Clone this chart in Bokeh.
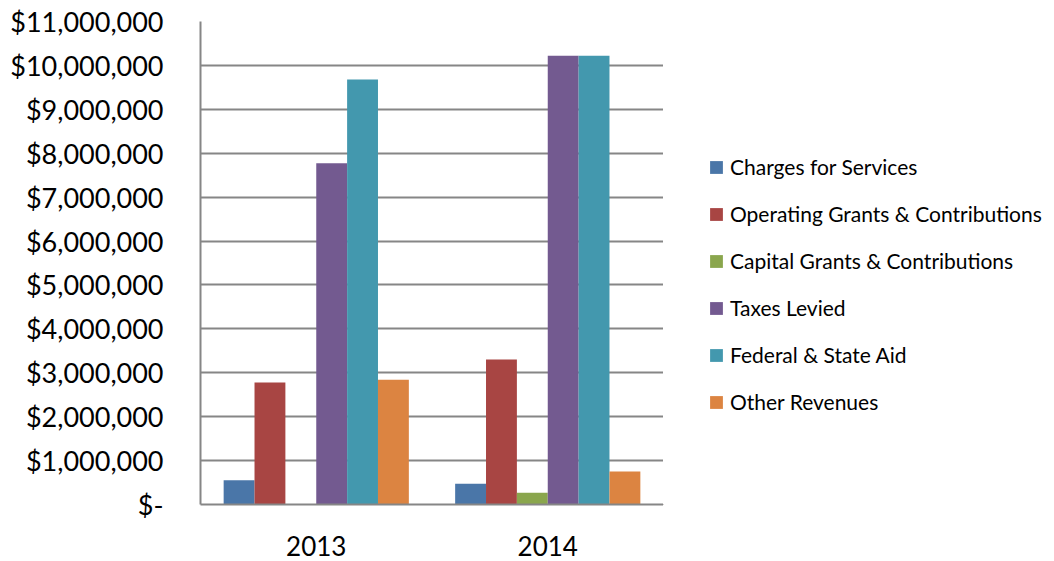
from bokeh.plotting import figure
from bokeh.models import ColumnDataSource, FactorRange, FixedTicker, CustomJSTickFormatter, Legend, LegendItem
from bokeh.layouts import row
from bokeh.transform import dodge
from bokeh.embed import file_html
from bokeh.resources import INLINE

years = ["2013", "2014"]
series_names = ["Charges for Services", "Operating Grants & Contributions",
                "Capital Grants & Contributions", "Taxes Levied",
                "Federal & State Aid", "Other Revenues"]
charges = [550000, 470000]
operating = [2780000, 3300000]
capital = [0, 270000]
taxes = [7770000, 10220000]
federal = [9680000, 10220000]
other = [2840000, 750000]
colors = ["#4A76A8", "#A84543", "#8AA64D", "#735A90", "#4398AE", "#DC8441"]
y_ticks = list(range(0, 11000001, 1000000))

FONT = "Lato"
src = ColumnDataSource(dict(year=years, charges=charges, operating=operating,
                            capital=capital, taxes=taxes, federal=federal, other=other))
keys = ["charges", "operating", "capital", "taxes", "federal", "other"]

p = figure(x_range=FactorRange(factors=years, range_padding=0), y_range=(0, 11000000),
           width=663, height=561, output_backend="svg", toolbar_location=None,
           min_border_left=200, min_border_right=0, min_border_top=21, min_border_bottom=57)
p.outline_line_color = None

bw = 0.8 / 6
for i, k in enumerate(keys):
    off = (i - 2.5) * bw
    p.vbar(x=dodge("year", off, range=p.x_range), top=k, width=bw, source=src,
           fill_color=colors[i], line_color=None)

p.yaxis.ticker = FixedTicker(ticks=y_ticks)
p.yaxis.formatter = CustomJSTickFormatter(code="""
return tick == 0 ? "$-" : "$" + Math.round(tick).toString().replace(/\\B(?=(\\d{3})+(?!\\d))/g, ",");
""")
p.yaxis.major_label_text_font = FONT
p.yaxis.major_label_text_font_size = "27px"
p.yaxis.major_label_text_color = "#000000"
p.yaxis.major_tick_line_color = None
p.yaxis.minor_tick_line_color = None
p.yaxis.major_tick_out = 0
p.yaxis.major_label_standoff = 37
p.yaxis.axis_line_color = "#868686"
p.yaxis.axis_line_width = 2

p.xaxis.major_label_text_font = FONT
p.xaxis.major_label_text_font_size = "26px"
p.xaxis.major_label_text_color = "#000000"
p.xaxis.major_tick_line_color = None
p.xaxis.major_tick_out = 0
p.xaxis.major_label_standoff = 31
p.xaxis.axis_line_color = "#868686"
p.xaxis.axis_line_width = 2

p.xgrid.grid_line_color = None
p.ygrid.grid_line_color = "#868686"
p.ygrid.grid_line_width = 2

# legend panel (separate figure to the right of the plot area)
lg = figure(width=391, height=561, output_backend="svg", toolbar_location=None,
            x_axis_location=None, y_axis_location=None, x_range=(0, 1), y_range=(0, 1),
            min_border=0)
lg.outline_line_color = None
lg.xgrid.grid_line_color = None
lg.ygrid.grid_line_color = None
lrs = []
for c in colors:
    # legend proxies, placed outside the visible range
    lrs.append(lg.vbar(x=[-5], top=[-5], width=0.1, fill_color=c, line_color=None))
items = [LegendItem(label=n, renderers=[r]) for n, r in zip(series_names, lrs)]
legend = Legend(items=items, location=(45, 90), border_line_color=None,
                background_fill_alpha=0, padding=0, margin=0,
                glyph_width=16, glyph_height=16, label_height=22, spacing=22,
                label_standoff=6, label_text_font=FONT, label_text_font_size="21px",
                label_text_color="#000000")
lg.add_layout(legend, "center")

layout = row(p, lg, spacing=0)
open("out.html", "w").write(file_html(layout, INLINE))
